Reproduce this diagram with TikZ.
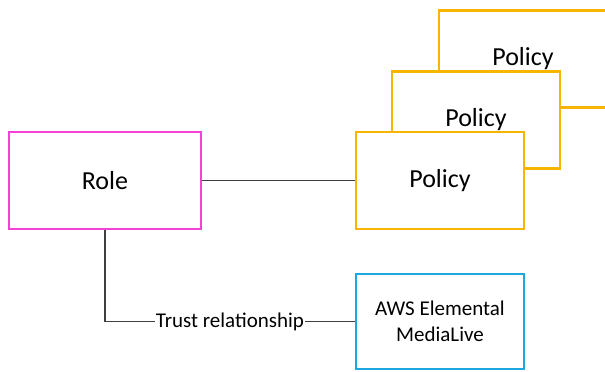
\documentclass[tikz,border=0pt]{standalone}
\usepackage{fontspec}
\setmainfont{Carlito}
\usepackage{xcolor}

\definecolor{rolepink}{HTML}{F542D4}
\definecolor{policyamber}{HTML}{F7B500}
\definecolor{serviceblue}{HTML}{1CA7E0}
\definecolor{linkgray}{HTML}{404040}

\tikzset{
  box/.style={draw, line width=2.4pt, fill=white, minimum width=168pt, minimum height=97pt, inner sep=0pt},
  rolebox/.style={box, draw=rolepink, minimum width=192pt},
  policybox/.style={box, draw=policyamber},
  servicebox/.style={box, draw=serviceblue, minimum height=95pt, align=center, font=\fontsize{21}{26}\selectfont},
  link/.style={draw=linkgray, line width=1.2pt}
}

\begin{document}
\begin{tikzpicture}[x=1pt, y=-1pt, font=\fontsize{26}{30}\selectfont]
\clip (0,0) rectangle (605,372);
% Role
\node[rolebox] (role) at (105,180.5) {Role};
% Policies, back to front
\node[policybox] (policyC) at (523,59) {Policy};
\node[policybox] (policyB) at (476,120) {Policy};
\node[policybox] (policyA) at (440,180.5) {Policy};
% Service
\node[servicebox] (medialive) at (440,321.5) {AWS Elemental\\MediaLive};
% Links
\draw[link] (role.east) -- (policyA.west);
\coordinate (bend) at (role.south |- medialive.west);
\draw[link] (role.south) -- (bend) -- (medialive.west)
  node[pos=0.5, fill=white, inner sep=1pt, font=\fontsize{21}{26}\selectfont] (trust) {Trust relationship};
\end{tikzpicture}
\end{document}
